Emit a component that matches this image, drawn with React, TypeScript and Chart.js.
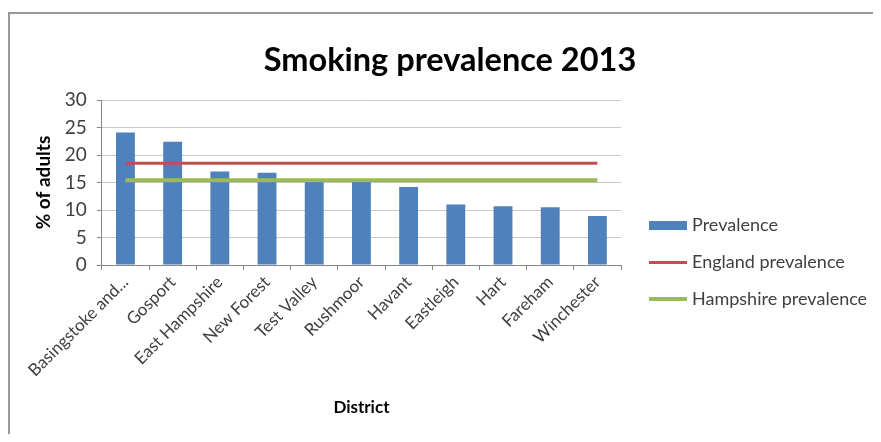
import React, { useEffect, useRef } from "react";
import { Chart, registerables } from "chart.js";

Chart.register(...registerables);

const categories = [
  "Basingstoke and...",
  "Gosport",
  "East Hampshire",
  "New Forest",
  "Test Valley",
  "Rushmoor",
  "Havant",
  "Eastleigh",
  "Hart",
  "Fareham",
  "Winchester",
];
const prevalence = [24.1, 22.4, 17.0, 16.8, 15.3, 15.2, 14.2, 11.0, 10.7, 10.5, 8.9];
const englandPrevalence = [18.5, 18.5, 18.5, 18.5, 18.5, 18.5, 18.5, 18.5, 18.5, 18.5, 18.5];
const hampshirePrevalence = [15.4, 15.4, 15.4, 15.4, 15.4, 15.4, 15.4, 15.4, 15.4, 15.4, 15.4];
const yTicks = [0, 5, 10, 15, 20, 25, 30];

const FONT = "Lato, 'Open Sans', sans-serif";
const BLUE = "#4F81BD";
const RED = "#C0504D";
const GREEN = "#9BBB59";

function makeSymbol(color: string, thickness: number): HTMLCanvasElement {
  const c = document.createElement("canvas");
  c.width = 48;
  c.height = 12;
  const ctx = c.getContext("2d")!;
  ctx.fillStyle = color;
  ctx.fillRect(10, Math.round((12 - thickness) / 2), 38, thickness);
  return c;
}

const shiftPlugin = {
  id: "shiftBoxes",
  afterLayout(chart: any) {
    const lg = chart.legend;
    if (lg) {
      lg.left += 3;
      lg.right = chart.width;
    }
    const t = chart.titleBlock;
    if (t) {
      t.left += 32;
      t.right += 32;
    }
  },
};

export default function App() {
  const ref = useRef<HTMLCanvasElement | null>(null);

  useEffect(() => {
    if (!ref.current) return;
    const symbols = [makeSymbol(BLUE, 9), makeSymbol(RED, 3), makeSymbol(GREEN, 4)];
    const chart = new Chart(ref.current, {
      type: "bar",
      plugins: [shiftPlugin],
      data: {
        labels: categories,
        datasets: [
          {
            type: "bar",
            label: "Prevalence",
            data: prevalence,
            backgroundColor: BLUE,
            borderWidth: 0,
            categoryPercentage: 1,
            barPercentage: 0.4,
            order: 2,
          },
          {
            type: "line",
            label: "England prevalence",
            data: englandPrevalence,
            borderColor: RED,
            backgroundColor: RED,
            borderWidth: 3,
            pointRadius: 0,
            order: 1,
          },
          {
            type: "line",
            label: "Hampshire prevalence",
            data: hampshirePrevalence,
            borderColor: GREEN,
            backgroundColor: GREEN,
            borderWidth: 4,
            pointRadius: 0,
            order: 0,
          },
        ] as any,
      },
      options: {
        responsive: false,
        animation: false,
        layout: { padding: { left: 2, right: 49, top: 8, bottom: 4 } },
        plugins: {
          tooltip: { enabled: false },
          title: {
            display: true,
            text: "Smoking prevalence 2013",
            color: "#000",
            font: { family: FONT, size: 32.5, weight: "bold" },
            padding: { top: 19, bottom: 20 },
          },
          legend: {
            position: "right",
            align: "center",
            title: {
              display: true,
              text: " ",
              font: { family: FONT, size: 10 },
              padding: { top: 60, bottom: 0 },
            },
            labels: {
              usePointStyle: true,
              pointStyleWidth: 40,
              padding: 19,
              color: "#404040",
              font: { family: FONT, size: 18 },
              sort: (a: any, b: any) => a.datasetIndex - b.datasetIndex,
              generateLabels: (ch: any) => {
                const base = Chart.defaults.plugins.legend.labels.generateLabels(ch);
                return base.map((item: any) => ({
                  ...item,
                  pointStyle: symbols[item.datasetIndex],
                  lineWidth: 0,
                }));
              },
            },
          },
        },
        scales: {
          x: {
            offset: true,
            grid: {
              offset: true,
              drawOnChartArea: false,
              drawTicks: true,
              tickLength: 5,
              color: "#868686",
            },
            border: { color: "#868686" },
            ticks: {
              maxRotation: 45,
              minRotation: 45,
              autoSkip: false,
              color: "#404040",
              font: { family: FONT, size: 17 },
              padding: 2,
            },
            title: {
              display: true,
              text: "District",
              color: "#000",
              font: { family: FONT, size: 17, weight: "bold" },
              padding: { top: 15, bottom: 12 },
            },
          },
          y: {
            min: 0,
            max: 30,
            afterBuildTicks: (axis: any) => {
              axis.ticks = yTicks.map((v) => ({ value: v }));
            },
            grid: {
              color: "#c8c8c8",
              tickLength: 5,
              tickColor: "#868686",
            },
            border: { color: "#868686" },
            ticks: {
              color: "#404040",
              font: { family: FONT, size: 19 },
              padding: 10,
            },
            title: {
              display: true,
              text: "% of adults",
              color: "#000",
              font: { family: FONT, size: 19, weight: "bold" },
              padding: { top: 20, bottom: 0 },
            },
          },
        },
      },
    });
    return () => chart.destroy();
  }, []);

  return (
    <div style={{ paddingTop: 4 }}>
      <div
        style={{
          width: 871,
          height: 420,
          borderLeft: "2px solid #999",
          borderTop: "2px solid #999",
          overflow: "hidden",
        }}
      >
        <canvas ref={ref} width={863} height={420} style={{ display: "block" }} />
      </div>
    </div>
  );
}
